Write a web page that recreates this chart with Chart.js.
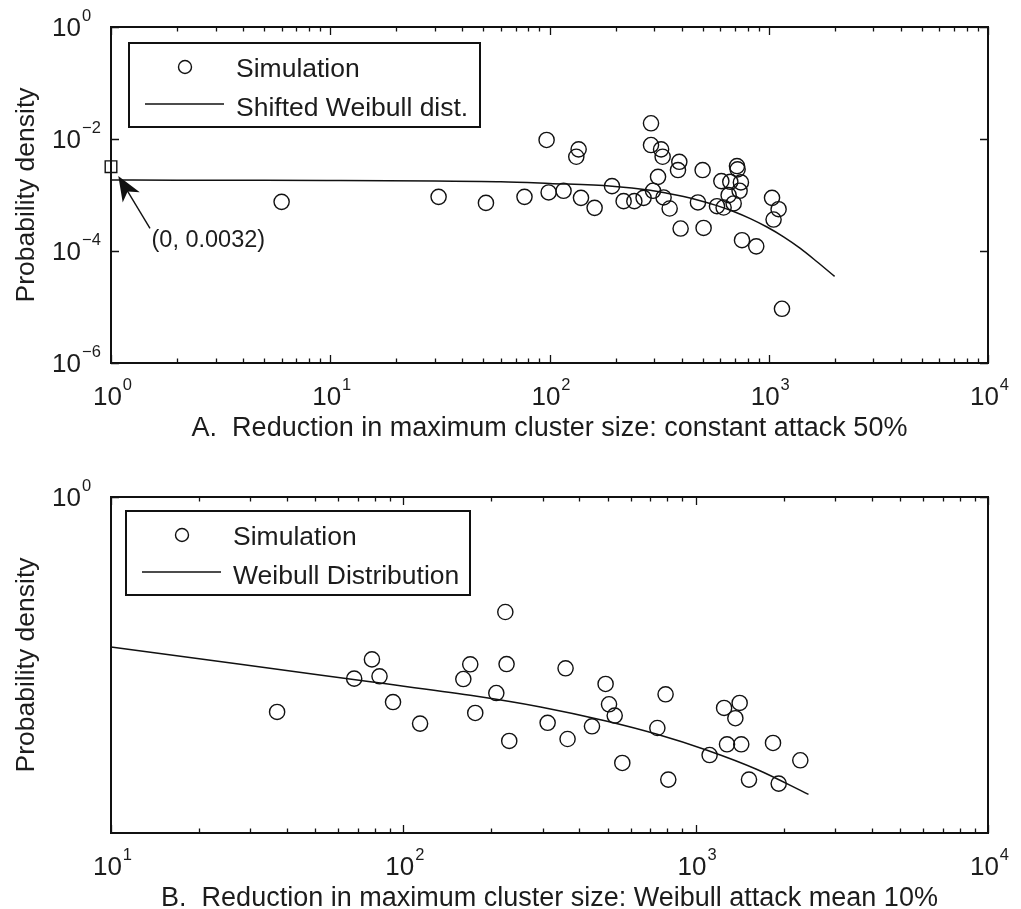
<!DOCTYPE html>
<html>
<head>
<meta charset="utf-8">
<script src="https://cdn.jsdelivr.net/npm/chart.js@4.4.0/dist/chart.umd.min.js"></script>
<style>
  html, body { margin: 0; padding: 0; background: #fff; }
  #wrap { position: relative; width: 1021px; height: 909px; }
  canvas { position: absolute; left: 0; }
  #chartA { top: 0; }
  #chartB { top: 455px; }
</style>
</head>
<body>
<div id="wrap">
  <canvas id="chartA" width="1021" height="455"></canvas>
  <canvas id="chartB" width="1021" height="454"></canvas>
</div>
<script>
// ---- panel A: constant attack 50% ----
const simAX = [6.0, 31.2, 51.3, 76.9, 97.0, 99.1, 115.9, 132.5, 135.8, 139.2, 160.6, 192.8, 217.8, 243.8, 268.6,
  290.4, 290.4, 296.6, 312.6, 322.8, 328.1, 331.4, 353.2, 385.5, 390.9, 396.3, 475.4, 499.3, 504.5, 580.7,
  607.8, 622.5, 656.1, 667.8, 691.8, 716.3, 721.1, 736.2, 746.5, 755.1, 877.0, 1035, 1052, 1109, 1149];
const simAY = [7.54e-4, 9.27e-4, 7.23e-4, 9.27e-4, 9.60e-3, 1.11e-3, 1.19e-3, 4.82e-3, 6.54e-3, 8.89e-4, 5.89e-4, 1.44e-3, 7.76e-4, 7.76e-4, 8.89e-4,
  1.91e-2, 7.81e-3, 1.19e-3, 2.11e-3, 6.54e-3, 4.82e-3, 9.04e-4, 5.74e-4, 2.79e-3, 3.92e-3, 2.52e-4, 7.36e-4, 2.79e-3, 2.58e-4, 6.31e-4,
  1.77e-3, 5.98e-4, 9.94e-4, 1.72e-3, 7.06e-4, 3.29e-3, 2.87e-3, 1.19e-3, 1.68e-3, 1.56e-4, 1.21e-4, 8.89e-4, 3.65e-4, 5.58e-4, 9.3e-6];
const fitAX = [1, 2, 5, 10, 30, 60, 100, 193, 288, 343.5, 408.9, 487.3, 580.7, 691.4, 823.8, 981.7, 1168.6, 1393, 1660, 1997];
const fitAY = [1.85e-3, 1.84e-3, 1.83e-3, 1.81e-3, 1.77e-3, 1.73e-3, 1.61e-3, 1.44e-3, 1.22e-3, 1.079e-3, 9.38e-4, 7.92e-4,
  6.47e-4, 5.08e-4, 3.79e-4, 2.68e-4, 1.79e-4, 1.113e-4, 6.43e-5, 3.52e-5];
const markAX = [1];
const markAY = [0.0032];
const markALabel = '(0, 0.0032)';
const xTicksA = [1, 10, 100, 1000, 10000];
const yTicksA = [1, 1e-2, 1e-4, 1e-6];

// ---- panel B: Weibull attack mean 10% ----
const simBX = [37.0, 67.9, 78.1, 82.9, 92.2, 114.1, 160.4, 169.4, 176.2, 208.0, 223.3, 225.5, 230.3, 311.6, 358.9,
  364.6, 441.9, 491.9, 505.4, 528.5, 561.1, 739.5, 789.0, 806.0, 1116, 1251, 1280, 1367, 1414, 1432, 1522, 1839, 1923, 2280];
const simBY = [1.45e-4, 5.71e-4, 1.26e-3, 6.28e-4, 2.18e-4, 8.99e-5, 5.62e-4, 1.03e-3, 1.39e-4, 3.16e-4, 8.84e-3, 1.04e-3, 4.40e-5, 9.29e-5, 8.73e-4,
  4.77e-5, 8.04e-5, 4.58e-4, 1.99e-4, 1.25e-4, 1.78e-5, 7.50e-5, 3.00e-4, 8.99e-6, 2.47e-5, 1.71e-4, 3.84e-5, 1.12e-4, 2.10e-4, 3.84e-5, 8.99e-6, 4.05e-5, 7.62e-6, 1.99e-5];
const fitBX = [10, 27.7, 77.1, 169.4, 294.6, 498, 738, 1094, 1622, 2432];
const fitBY = [2.10e-3, 1.03e-3, 5.01e-4, 2.88e-4, 1.78e-4, 9.88e-5, 5.78e-5, 3.0e-5, 1.36e-5, 4.9e-6];
const xTicksB = [10, 100, 1000, 10000];
const yTicksB = [1];

const INK = '#111';
const TXT = '#1c1c1c';
const FAM = "'Liberation Sans', Arial, Helvetica, sans-serif";

const pts = (xs, ys) => xs.map((x, i) => ({ x: x, y: ys[i] }));

function supLabel(ctx, v, x, y, align) {
  const e = Math.round(Math.log10(v));
  const es = e < 0 ? '\u2212' + (-e) : String(e);
  ctx.font = '26px ' + FAM;
  const wb = ctx.measureText('10').width;
  ctx.font = '16.5px ' + FAM;
  const we = ctx.measureText(es).width;
  const x0 = align === 'center' ? x - (wb + we) / 2 : x - wb;
  ctx.textAlign = 'left';
  ctx.textBaseline = 'alphabetic';
  ctx.font = '26px ' + FAM;
  ctx.fillText('10', x0, y);
  ctx.font = '16.5px ' + FAM;
  ctx.fillText(es, x0 + wb + 1, y - 15);
}

// axes box, inward ticks, power-of-ten labels, titles, legend box
function framePlugin(cfg) {
  return {
    id: 'frame',
    afterDraw(chart) {
      const ctx = chart.ctx;
      const { left, right, top, bottom } = chart.chartArea;
      const xs = chart.scales.x, ys = chart.scales.y;
      ctx.save();
      ctx.strokeStyle = INK;
      ctx.fillStyle = TXT;

      // x ticks (major + minor), top and bottom, pointing in
      ctx.lineWidth = 1.3;
      ctx.beginPath();
      const d0 = Math.round(Math.log10(xs.min)), d1 = Math.round(Math.log10(xs.max));
      for (let d = d0; d <= d1; d++) {
        for (let k = 1; k <= 9; k++) {
          const v = k * Math.pow(10, d);
          if (v < xs.min || v > xs.max) continue;
          const px = Math.round(xs.getPixelForValue(v)) + 0.5;
          const len = k === 1 ? 8 : 4.5;
          ctx.moveTo(px, bottom); ctx.lineTo(px, bottom - len);
          ctx.moveTo(px, top); ctx.lineTo(px, top + len);
        }
      }
      cfg.yTicks.forEach(v => {
        const py = Math.round(ys.getPixelForValue(v)) + 0.5;
        ctx.moveTo(left, py); ctx.lineTo(left + 8, py);
        ctx.moveTo(right, py); ctx.lineTo(right - 8, py);
      });
      ctx.stroke();

      ctx.lineWidth = 2;
      ctx.strokeRect(left, top, right - left, bottom - top);

      // tick labels
      cfg.xTicks.forEach(v => supLabel(ctx, v, xs.getPixelForValue(v) + 1, bottom + 42, 'center'));
      cfg.yTicks.forEach(v => supLabel(ctx, v, left - 30, ys.getPixelForValue(v) + 9, 'right'));

      // axis titles
      ctx.textAlign = 'center';
      ctx.font = '27px ' + FAM;
      ctx.fillText(cfg.xTitle, (left + right) / 2, bottom + 73);
      ctx.save();
      ctx.translate(34, (top + bottom) / 2);
      ctx.rotate(-Math.PI / 2);
      ctx.font = '26.5px ' + FAM;
      ctx.fillText('Probability density', 0, 0);
      ctx.restore();

      // legend
      const lx = left + cfg.legend.dx, ly = top + cfg.legend.dy;
      ctx.lineWidth = 2;
      ctx.strokeRect(lx, ly, cfg.legend.w, 84);
      ctx.lineWidth = 1.4;
      ctx.beginPath();
      ctx.arc(lx + 56, ly + 24, 6.5, 0, Math.PI * 2);
      ctx.stroke();
      ctx.beginPath();
      ctx.moveTo(lx + 16, ly + 61); ctx.lineTo(lx + 95, ly + 61);
      ctx.stroke();
      ctx.textAlign = 'left';
      ctx.font = '26.5px ' + FAM;
      const ds = chart.data.datasets;
      ctx.fillText(ds[0].label, lx + 107, ly + 34);
      ctx.fillText(ds[1].label, lx + 107, ly + 72.5);

      // annotation arrow to the marked point
      if (cfg.mark) {
        const mx = xs.getPixelForValue(cfg.mark.x), my = ys.getPixelForValue(cfg.mark.y);
        const tip = [mx + 7.3, my + 9.3], tail = [mx + 39, my + 61.6];
        const dx = tip[0] - tail[0], dy = tip[1] - tail[1];
        const L = Math.hypot(dx, dy), ux = dx / L, uy = dy / L;
        const hl = 25, hw = 10;
        ctx.lineWidth = 1.4;
        ctx.beginPath();
        ctx.moveTo(tail[0], tail[1]);
        ctx.lineTo(tip[0] - ux * hl * 0.7, tip[1] - uy * hl * 0.7);
        ctx.stroke();
        ctx.beginPath();
        ctx.moveTo(tip[0], tip[1]);
        ctx.lineTo(tip[0] - ux * hl - uy * hw, tip[1] - uy * hl + ux * hw);
        ctx.lineTo(tip[0] - ux * hl * 0.72, tip[1] - uy * hl * 0.72);
        ctx.lineTo(tip[0] - ux * hl + uy * hw, tip[1] - uy * hl - ux * hw);
        ctx.closePath();
        ctx.fillStyle = INK;
        ctx.fill();
        ctx.fillStyle = TXT;
        ctx.font = '23.5px ' + FAM;
        ctx.fillText(cfg.mark.label, mx + 40.5, my + 80.5);
      }
      ctx.restore();
    }
  };
}

function makeChart(id, cfg) {
  const datasets = [
    {
      label: 'Simulation',
      data: pts(cfg.simX, cfg.simY),
      pointStyle: 'circle',
      pointRadius: 7.6,
      borderWidth: 1.4,
      borderColor: INK,
      backgroundColor: 'rgba(0,0,0,0)',
      clip: false
    },
    {
      type: 'line',
      label: cfg.fitLabel,
      data: pts(cfg.fitX, cfg.fitY),
      showLine: true,
      pointRadius: 0,
      borderWidth: 1.5,
      borderColor: INK,
      fill: false,
      cubicInterpolationMode: 'monotone'
    }
  ];
  if (cfg.mark) {
    datasets.push({
      label: 'mark',
      data: pts(cfg.markX, cfg.markY),
      pointStyle: 'rect',
      pointRadius: 8.2,
      borderWidth: 1.4,
      borderColor: INK,
      backgroundColor: 'rgba(0,0,0,0)',
      clip: false
    });
  }
  return new Chart(document.getElementById(id), {
    type: 'scatter',
    data: { datasets: datasets },
    options: {
      responsive: false,
      animation: false,
      events: [],
      layout: { padding: cfg.padding },
      plugins: { legend: { display: false }, tooltip: { enabled: false } },
      scales: {
        x: { type: 'logarithmic', min: cfg.xTicks[0], max: cfg.xTicks[cfg.xTicks.length - 1], display: false },
        y: { type: 'logarithmic', min: 1e-6, max: 1, display: false }
      }
    },
    plugins: [framePlugin(cfg)]
  });
}

makeChart('chartA', {
  simX: simAX, simY: simAY, fitX: fitAX, fitY: fitAY,
  fitLabel: 'Shifted Weibull dist.',
  markX: markAX, markY: markAY,
  mark: { x: markAX[0], y: markAY[0], label: markALabel },
  xTicks: xTicksA, yTicks: yTicksA,
  xTitle: 'A.  Reduction in maximum cluster size: constant attack 50%',
  padding: { left: 111, right: 33, top: 27, bottom: 92 },
  legend: { dx: 18, dy: 16, w: 351 }
});

makeChart('chartB', {
  simX: simBX, simY: simBY, fitX: fitBX, fitY: fitBY,
  fitLabel: 'Weibull Distribution',
  xTicks: xTicksB, yTicks: yTicksB,
  xTitle: 'B.  Reduction in maximum cluster size: Weibull attack mean 10%',
  padding: { left: 111, right: 33, top: 42, bottom: 76 },
  legend: { dx: 15, dy: 14, w: 344 }
});
</script>
</body>
</html>
